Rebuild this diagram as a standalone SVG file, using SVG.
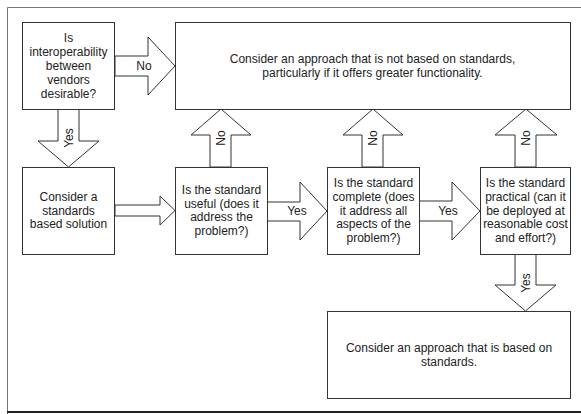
<svg xmlns="http://www.w3.org/2000/svg" width="581" height="414" viewBox="0 0 581 414">
<style>
.box{fill:#fff;stroke:#333;stroke-width:1}
.arr{fill:#fff;stroke:#333;stroke-width:1;stroke-linejoin:miter}
text{font-family:"Liberation Sans",Arial,sans-serif;font-size:12px;fill:#222;text-anchor:middle}
</style>
<rect x="0" y="0" width="581" height="414" fill="#fff"/>
<g id="frame">
<path d="M7.5,420 V7.5 H590" fill="none" stroke="#777" stroke-width="1"/>
<path d="M7,412 H590" fill="none" stroke="#222" stroke-width="2"/>
</g>
<g id="connectors">
<polygon class="arr" points="115,56 148,56 148,37 175,66 148,95 148,76 115,76"/>
<text x="144" y="70">No</text>
<polygon class="arr" points="58,109 79,109 79,141 99,141 68.5,167 38,141 58,141"/>
<text transform="translate(72.5,138) rotate(-90)">Yes</text>
<polygon class="arr" points="115,205 160,205 160,196 175,210.5 160,225 160,216 115,216"/>
<polygon class="arr" points="210,167 210,135 191,135 221,109 251,135 231,135 231,167"/>
<text transform="translate(225,138) rotate(-90)">No</text>
<polygon class="arr" points="267,202 300,202 300,182 327,211 300,240 300,221 267,221"/>
<text x="297" y="214.5">Yes</text>
<polygon class="arr" points="362,167 362,135 343,135 373,109 403,135 383,135 383,167"/>
<text transform="translate(377,138) rotate(-90)">No</text>
<polygon class="arr" points="419,201 452,201 452,182 480,211 452,240 452,221 419,221"/>
<text x="448" y="214.5">Yes</text>
<polygon class="arr" points="515,167 515,135 495,135 526,109 557,135 536,135 536,167"/>
<text transform="translate(530,138) rotate(-90)">No</text>
<polygon class="arr" points="515,254 515,285 495,285 525.5,311 556,285 536,285 536,254"/>
<text transform="translate(529.5,283) rotate(-90)">Yes</text>
</g>
<g id="n1">
<rect class="box" x="22.5" y="22.5" width="92" height="87"/>
<text x="68.5" y="42">Is</text>
<text x="68.5" y="56">interoperability</text>
<text x="68.5" y="70">between</text>
<text x="68.5" y="84">vendors</text>
<text x="68.5" y="97.5">desirable?</text>
</g>
<g id="n2">
<rect class="box" x="175.5" y="22.5" width="395" height="87"/>
<text x="372.5" y="62.5">Consider an approach that is not based on standards,</text>
<text x="372.5" y="76.5">particularly if it offers greater functionality.</text>
</g>
<g id="n3">
<rect class="box" x="22.5" y="167.5" width="92" height="87"/>
<text x="68.5" y="200.5">Consider a</text>
<text x="68.5" y="214.5">standards</text>
<text x="68.5" y="228">based solution</text>
</g>
<g id="n4">
<rect class="box" x="175.5" y="167.5" width="92" height="87"/>
<text x="221.5" y="194">Is the standard</text>
<text x="221.5" y="207.5">useful (does it</text>
<text x="221.5" y="221">address the</text>
<text x="221.5" y="235">problem?)</text>
</g>
<g id="n5">
<rect class="box" x="327.5" y="167.5" width="92" height="87"/>
<text x="373.5" y="187">Is the standard</text>
<text x="373.5" y="201">complete (does</text>
<text x="373.5" y="214.5">it address all</text>
<text x="373.5" y="228">aspects of the</text>
<text x="373.5" y="241.5">problem?)</text>
</g>
<g id="n6">
<rect class="box" x="480.5" y="167.5" width="90" height="87"/>
<text x="525.5" y="187">Is the standard</text>
<text x="525.5" y="200.5">practical (can it</text>
<text x="525.5" y="214.5">be deployed at</text>
<text x="525.5" y="228">reasonable cost</text>
<text x="525.5" y="241.5">and effort?)</text>
</g>
<g id="n7">
<rect class="box" x="327.5" y="311.5" width="243" height="87"/>
<text x="449" y="352">Consider an approach that is based on</text>
<text x="449" y="365.5">standards.</text>
</g>
</svg>
